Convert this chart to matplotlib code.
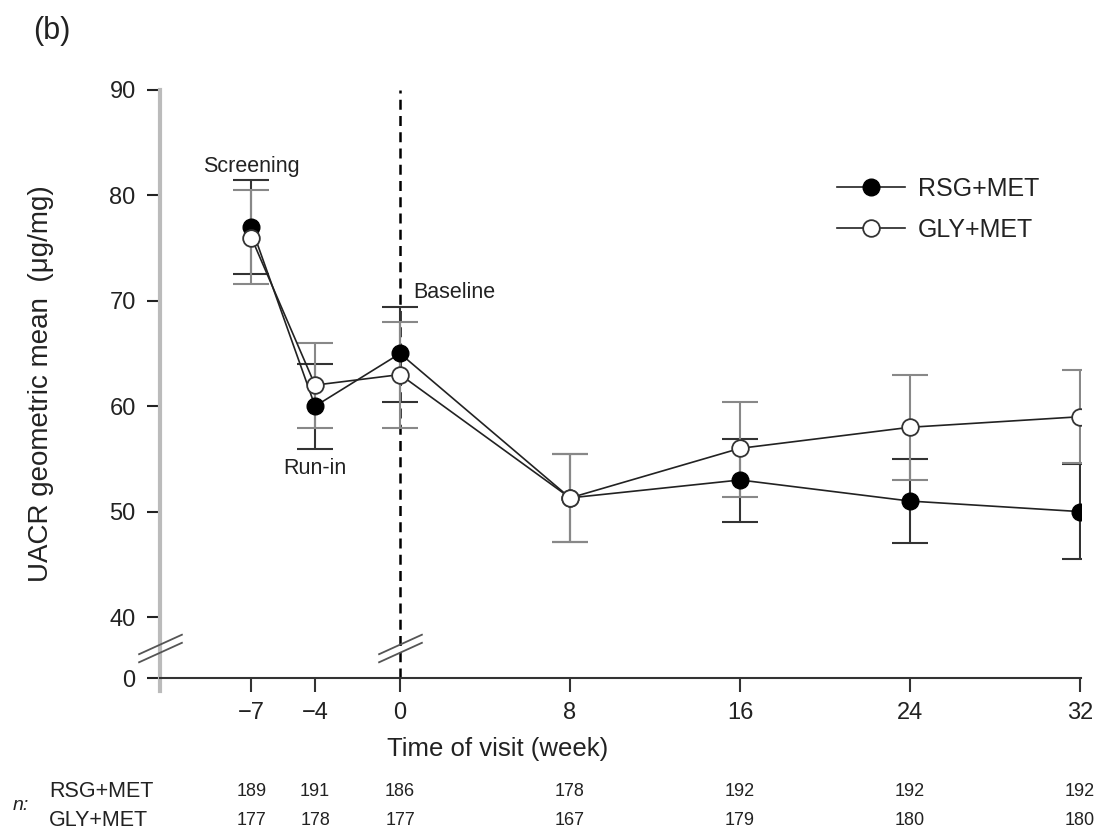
import numpy as np
import matplotlib
matplotlib.use("Agg")
import matplotlib.pyplot as plt
from matplotlib.path import Path
from matplotlib.ticker import NullLocator
from matplotlib.transforms import blended_transform_factory

plt.rcParams['font.family'] = ['Liberation Sans', 'DejaVu Sans']

# data
weeks = [-7, -4, 0, 8, 16, 24, 32]
rsg_mean = [77, 60, 65, 51.3, 53, 51, 50]
rsg_lo = [72.5, 55.9, 60.4, 47.1, 49.0, 47.0, 45.5]
rsg_hi = [81.5, 64.0, 69.4, 55.5, 56.9, 55.0, 54.5]
gly_mean = [76, 62, 63, 51.3, 56, 58, 59]
gly_lo = [71.6, 57.9, 57.9, 47.1, 51.4, 53.0, 54.6]
gly_hi = [80.5, 66.0, 68.0, 55.5, 60.4, 63.0, 63.4]
rsg_n = [189, 191, 186, 178, 192, 192, 192]
gly_n = [177, 178, 177, 167, 179, 180, 180]
yticks = [0, 40, 50, 60, 70, 80, 90]
xticks = [-7, -4, 0, 8, 16, 24, 32]

txt = '#222222'

# compressed region below 40 (broken axis)
k = 0.1447
def fwd(y):
    y = np.asarray(y, float)
    return np.where(y >= 40, y, 40 - (40 - y) * k)
def inv(v):
    v = np.asarray(v, float)
    return np.where(v >= 40, v, 40 - (40 - v) / k)

fig = plt.figure(figsize=(10.95, 8.3), dpi=100)
ax = fig.add_axes([0.1461, 0.1675, 0.8411, 0.7241])
ax.set_yscale('function', functions=(fwd, inv))
ax.set_xlim(-11.3, 32.05)
ax.set_ylim(-8.5, 90)

for s in ['top', 'right']:
    ax.spines[s].set_visible(False)
ax.spines['left'].set_color('#bbbbbb')
ax.spines['left'].set_linewidth(3)
ax.spines['bottom'].set_position(('data', 0))
ax.spines['bottom'].set_color('#333333')
ax.spines['bottom'].set_linewidth(1.5)

ax.set_yticks(yticks)
ax.yaxis.set_minor_locator(NullLocator())
ax.set_xticks(xticks)
ax.tick_params(axis='y', length=9.5, width=1.5, pad=8, labelsize=17, color='#222222', labelcolor=txt)
ax.tick_params(axis='x', length=10, width=1.5, pad=7, labelsize=17, color='#333333', labelcolor=txt)

# dashed baseline line
ax.vlines(0, 0, 90, colors='k', linestyles=(0, (4, 2.5)), linewidth=1.8, zorder=1)

# break marks
brk = Path([(-22, -14), (22, 6), (-22, -6), (22, 14)],
           [Path.MOVETO, Path.LINETO, Path.MOVETO, Path.LINETO])
ax.plot([-11.3, 0], [20, 20], linestyle='none', marker=brk, markersize=32,
        markeredgecolor='#555555', markeredgewidth=1.3, clip_on=False, zorder=5)

# error bars
rsg_err = [np.array(rsg_mean) - np.array(rsg_lo), np.array(rsg_hi) - np.array(rsg_mean)]
gly_err = [np.array(gly_mean) - np.array(gly_lo), np.array(gly_hi) - np.array(gly_mean)]
ax.errorbar(weeks, rsg_mean, yerr=rsg_err, fmt='none', ecolor='#333333',
            elinewidth=1.5, capsize=13, capthick=1.5, zorder=2)
ax.errorbar(weeks, gly_mean, yerr=gly_err, fmt='none', ecolor='#888888',
            elinewidth=1.5, capsize=13, capthick=1.5, zorder=2)

ax.plot(weeks, rsg_mean, color='#222222', lw=1.2, marker='o', markersize=12,
        markerfacecolor='black', markeredgecolor='black', label='RSG+MET', zorder=3)
ax.plot(weeks, gly_mean, color='#222222', lw=1.2, marker='o', markersize=12,
        markerfacecolor='white', markeredgecolor='#333333', markeredgewidth=1.3,
        label='GLY+MET', zorder=4)

ax.legend(loc='upper left', bbox_to_anchor=(0.764, 0.787), bbox_transform=fig.transFigure,
          frameon=False, fontsize=18, handlelength=2.75, handletextpad=0.5,
          labelspacing=0.68, borderpad=0, borderaxespad=0, labelcolor=txt)

# annotations
ax.text(-7, 82.7, 'Screening', ha='center', va='center', fontsize=15.5, color=txt)
ax.text(-4, 54.1, 'Run-in', ha='center', va='center', fontsize=15.5, color=txt)
ax.text(0.6, 70.8, 'Baseline', ha='left', va='center', fontsize=15.5, color=txt)

ax.set_ylabel('UACR geometric mean  (μg/mg)', fontsize=20, color=txt)
ax.yaxis.set_label_coords(0.049, 0.5377, transform=fig.transFigure)
ax.set_xlabel('Time of visit (week)', fontsize=18.5, color=txt)
ax.xaxis.set_label_coords(0.454, 0.1122, transform=fig.transFigure)

fig.text(0.03, 0.963, '(b)', fontsize=22, color=txt, va='center', ha='left')

# n table under the axis
tr = blended_transform_factory(ax.transData, fig.transFigure)
fig.text(0.012, 0.029, 'n:', fontsize=14, style='italic', color=txt, va='center')
fig.text(0.045, 0.046, 'RSG+MET', fontsize=15.5, color=txt, va='center')
fig.text(0.045, 0.012, 'GLY+MET', fontsize=15.5, color=txt, va='center')
for w, a, b in zip(weeks, rsg_n, gly_n):
    ax.text(w, 0.046, str(a), transform=tr, ha='center', va='center', fontsize=13, color=txt)
    ax.text(w, 0.012, str(b), transform=tr, ha='center', va='center', fontsize=13, color=txt)

fig.savefig('out.png', dpi=100)
